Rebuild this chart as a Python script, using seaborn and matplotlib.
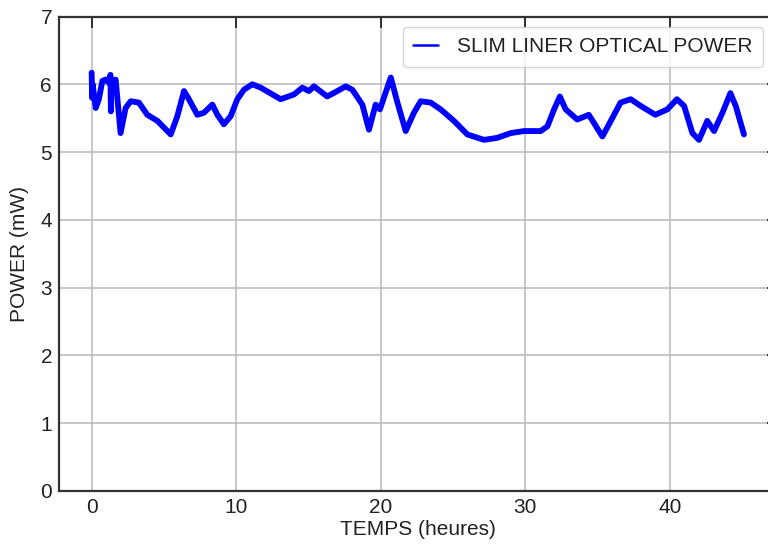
import matplotlib
matplotlib.use("Agg")
import matplotlib.pyplot as plt
import seaborn as sns
import pandas as pd

# Data
hours = [0.0, 0.03, 0.07, 0.28, 0.5, 0.74, 0.97, 1.2, 1.3, 1.33, 1.37, 1.55, 1.66,
         2.0, 2.35, 2.7, 3.27, 3.85, 4.55, 5.47, 5.93, 6.39, 6.73, 7.31, 7.77,
         8.35, 8.7, 9.15, 9.62, 10.08, 10.54, 11.12, 11.7, 13.08, 14.0, 14.58,
         15.04, 15.38, 16.3, 17.0, 17.58, 18.04, 18.73, 19.19, 19.65, 19.95,
         20.7, 21.16, 21.73, 22.3, 22.77, 23.46, 24.15, 25.07, 26.0, 27.15,
         28.07, 29.0, 29.92, 31.07, 31.54, 32.0, 32.4, 32.8, 33.6, 34.4, 34.76,
         35.34, 35.9, 36.6, 37.3, 38.0, 39.0, 39.84, 40.5, 41.0, 41.57, 42.03,
         42.6, 43.07, 43.65, 44.2, 44.57, 45.14]
power = [6.17, 5.80, 6.00, 5.65, 5.78, 6.05, 6.07, 6.02, 6.14, 5.60, 6.05, 6.05, 6.07,
         5.28, 5.65, 5.75, 5.73, 5.55, 5.46, 5.26, 5.53, 5.90, 5.78, 5.55, 5.58,
         5.70, 5.55, 5.41, 5.53, 5.78, 5.92, 6.00, 5.95, 5.78, 5.85, 5.95,
         5.90, 5.97, 5.82, 5.90, 5.97, 5.92, 5.70, 5.33, 5.70, 5.63,
         6.10, 5.73, 5.31, 5.58, 5.75, 5.73, 5.63, 5.46, 5.26, 5.18,
         5.21, 5.28, 5.31, 5.31, 5.38, 5.63, 5.82, 5.63, 5.48, 5.55, 5.43,
         5.23, 5.45, 5.73, 5.78, 5.68, 5.55, 5.63, 5.78, 5.68, 5.28, 5.18,
         5.46, 5.31, 5.58, 5.87, 5.68, 5.26]
series_label = "SLIM LINER OPTICAL POWER"
x_label = "TEMPS (heures)"
y_label = "POWER (mW)"
x_ticks = [0, 10, 20, 30, 40]
y_ticks = [0, 1, 2, 3, 4, 5, 6, 7]

df = pd.DataFrame({"hours": hours, "power": power})

sns.set_style("whitegrid")
plt.rcParams["font.family"] = ["Liberation Sans", "DejaVu Sans"]

fig = plt.figure(figsize=(7.68, 5.44), dpi=100)
ax = fig.add_axes([59 / 768, 1 - 491 / 544, 718.5 / 768, (491 - 16.5) / 544])

sns.lineplot(data=df, x="hours", y="power", ax=ax, color="#0000ff",
             linewidth=4.2, estimator=None, sort=False, label=series_label,
             solid_joinstyle="round", solid_capstyle="round")

ax.set_xlim(-2.26, 47.46)
ax.set_ylim(0, 7)
ax.set_xticks(x_ticks)
ax.set_yticks(y_ticks)
ax.set_xlabel(x_label, fontsize=15, color="#222222", labelpad=2)
ax.set_ylabel(y_label, fontsize=15, color="#222222", labelpad=8)
ax.tick_params(axis="both", direction="in", length=8, width=1.3, colors="#222222",
               labelsize=15, top=True, right=True, pad=5)
ax.grid(True, color="#bdbdbd", linewidth=1.2)
for s in ax.spines.values():
    s.set_visible(True)
    s.set_color("#333333")
    s.set_linewidth(1.6)

leg = ax.legend(loc="upper right", bbox_to_anchor=(763 / 768, 1 - 27 / 544),
                bbox_transform=fig.transFigure, borderaxespad=0, fontsize=15,
                frameon=True, fancybox=True, handlelength=1.2, handletextpad=0.9,
                borderpad=0.5)
leg.get_frame().set_edgecolor("#cccccc")
leg.get_frame().set_linewidth(1.0)
for ln in leg.get_lines():
    ln.set_linewidth(1.8)
for t in leg.get_texts():
    t.set_color("#222222")

fig.savefig("out.png", dpi=100)
